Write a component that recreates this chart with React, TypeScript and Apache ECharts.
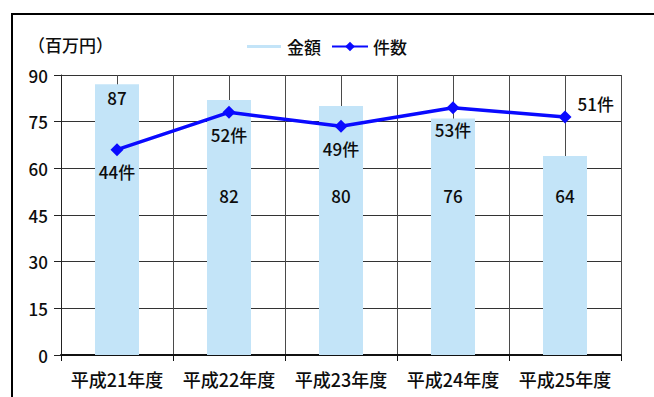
import { useEffect, useRef } from 'react';
import * as echarts from 'echarts';

// 年度ごとの金額（百万円）と件数
const categories = ['平成21年度', '平成22年度', '平成23年度', '平成24年度', '平成25年度'];
const amounts = [87, 82, 80, 76, 64];
const counts = [44, 52, 49, 53, 51];
const amountAxis = [0, 90, 15]; // min, max, interval（左軸）
const countAxis = [0, 60, 10]; // min, max, interval（件数用の非表示軸）

const FONT = '"Liberation Sans Narrow", "Noto Sans CJK JP", sans-serif';
const TEXT = '#0d0d0d';
const BAR = '#c3e4f8';
const LINE = '#0a0aff';

export default function App() {
  const ref = useRef<HTMLDivElement>(null);

  useEffect(() => {
    if (!ref.current) return;
    const chart = echarts.init(ref.current, undefined, { renderer: 'svg' });

    const barData = amounts.map((v, i) => ({
      value: v,
      label:
        i === 0
          ? { position: 'insideTop', distance: 5 }
          : { position: 'insideBottom', distance: 151 },
    }));

    const lineData = counts.map((v, i) => ({
      value: v,
      label:
        i === counts.length - 1
          ? { position: 'right', distance: 6, offset: [0, -14] }
          : { position: 'bottom', distance: 7 },
    }));

    chart.setOption({
      animation: false,
      backgroundColor: '#ffffff',
      textStyle: { fontFamily: FONT },
      legend: {
        top: 33,
        left: 'center',
        itemWidth: 36,
        itemHeight: 12,
        itemGap: 10,
        textStyle: { fontFamily: FONT, fontSize: 17, color: TEXT, fontWeight: 500 },
        data: [
          {
            name: '金額',
            icon: 'path://M0,0L0.01,0M0,12L0.01,12M0,4.5h34v3h-34z',
            itemStyle: { color: BAR },
          },
          { name: '件数' },
        ],
      },
      grid: { left: 61, right: 33, top: 75, bottom: 42 },
      xAxis: [
        {
          type: 'category',
          data: categories,
          axisLine: { lineStyle: { color: '#111', width: 2 } },
          axisTick: { show: true, length: 6, lineStyle: { color: '#111' } },
          axisLabel: {
            interval: 0,
            fontFamily: FONT,
            fontSize: 18,
            fontWeight: 500,
            color: TEXT,
            margin: 15,
          },
          splitLine: { show: false },
        },
        {
          // 区切り線と中心線を描くための補助軸
          type: 'value',
          position: 'top',
          min: 0,
          max: categories.length * 2,
          interval: 1,
          axisLine: { show: false },
          axisTick: { show: false },
          axisLabel: { show: false },
          splitLine: { show: true, lineStyle: { color: '#4a4a4a', width: 1 } },
        },
      ],
      yAxis: [
        {
          type: 'value',
          min: amountAxis[0],
          max: amountAxis[1],
          interval: amountAxis[2],
          axisLine: { show: true, lineStyle: { color: '#222', width: 1 } },
          axisTick: { show: true, length: 7, lineStyle: { color: '#222' } },
          axisLabel: { fontFamily: FONT, fontSize: 17, fontWeight: 500, color: TEXT, margin: 13 },
          splitLine: { show: true, lineStyle: { color: '#333', width: 1 } },
        },
        {
          type: 'value',
          min: countAxis[0],
          max: countAxis[1],
          interval: countAxis[2],
          show: false,
          splitLine: { show: false },
        },
      ],
      graphic: [
        {
          type: 'text',
          left: 28,
          top: 36,
          style: { text: '（百万円）', font: `500 17px ${FONT}`, fill: TEXT },
        },
        {
          type: 'polyline',
          shape: { points: [[12, 400], [12, 14], [660, 14]] },
          style: { stroke: '#000', lineWidth: 2, fill: 'none' },
          z: 10,
        },
      ],
      series: [
        {
          name: '金額',
          type: 'bar',
          xAxisIndex: 0,
          yAxisIndex: 0,
          barWidth: 44,
          data: barData,
          itemStyle: { color: BAR },
          label: {
            show: true,
            fontFamily: FONT,
            fontSize: 17,
            fontWeight: 500,
            color: TEXT,
          },
          z: 2,
        },
        {
          name: '件数',
          type: 'line',
          xAxisIndex: 0,
          yAxisIndex: 1,
          data: lineData,
          symbol: 'diamond',
          symbolSize: 13,
          lineStyle: { color: LINE, width: 3.5 },
          itemStyle: { color: LINE },
          label: {
            show: true,
            formatter: '{c}件',
            fontFamily: FONT,
            fontSize: 17,
            fontWeight: 500,
            color: TEXT,
          },
          z: 3,
        },
      ],
    });

    return () => chart.dispose();
  }, []);

  return (
    <div
      ref={ref}
      style={{ position: 'fixed', left: 0, top: 0, width: 654, height: 397 }}
    />
  );
}
